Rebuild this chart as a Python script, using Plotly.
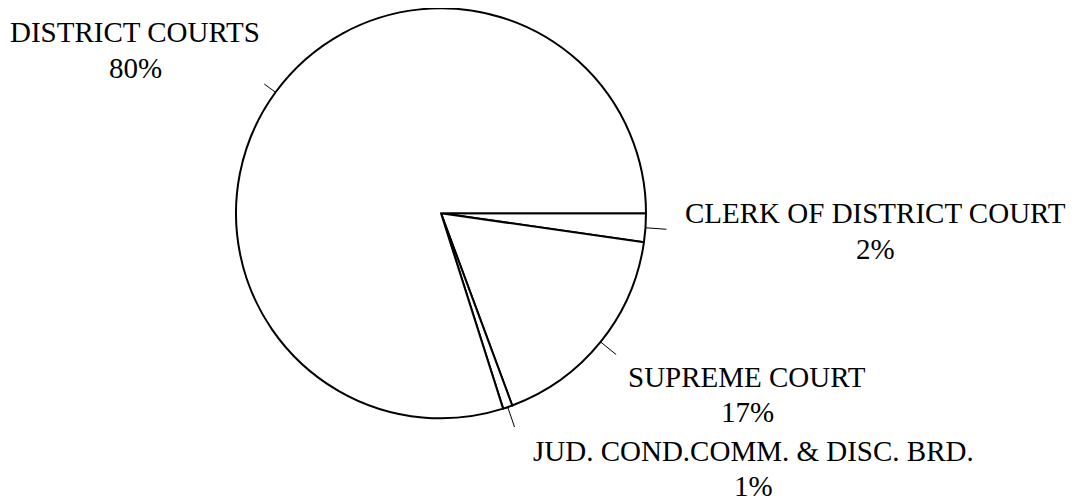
import math
import plotly.graph_objects as go

# ---- data ----
labels = ["CLERK OF DISTRICT COURT", "SUPREME COURT",
          "JUD. COND.COMM. & DISC. BRD.", "DISTRICT COURTS"]
values = [2.25, 17.1, 0.75, 79.9]

# ---- layout / style (not data) ----
W, H = 1076, 502
OFF = 8  # page body margin of the html page
CX, CY, R = 441.0, 213.3, 205.0
# label block centres (screen pixels): x centre, y of first line middle
label_pos = [(875, 213), (747, 376.5), (753, 450.5), (135, 32.5)]
line_gap = 35.5
tick_len = [21, 20, 21, 14]
FONT = dict(family="Liberation Serif", size=29, color="black")

def px(x, y):
    return (x - OFF) / W, 1 - (y - OFF) / H

total = sum(values)
pcts = [round(v / total * 100) for v in values]

dx0, dy1 = px(CX - R, CY - R)
dx1, dy0 = px(CX + R, CY + R)

fig = go.Figure()
fig.add_trace(go.Pie(
    labels=labels, values=values, sort=False, direction="clockwise",
    rotation=90, textinfo="none", textposition="none", showlegend=False,
    hoverinfo="label+percent",
    marker=dict(colors=["white"] * len(values), line=dict(color="black", width=2)),
    domain=dict(x=[dx0, dx1], y=[dy0, dy1]),
))

shapes = []
annotations = []
cum = 0.0
for i, v in enumerate(values):
    mid = (cum + v / 2) / total * 2 * math.pi
    cum += v
    c, s = math.cos(mid), math.sin(mid)
    x0, y0 = px(CX + R * c, CY + R * s)
    x1, y1 = px(CX + (R + tick_len[i]) * c, CY + (R + tick_len[i]) * s)
    shapes.append(dict(type="line", xref="paper", yref="paper",
                       x0=x0, y0=y0, x1=x1, y1=y1,
                       line=dict(color="black", width=1)))
    lx, ly = label_pos[i]
    for j, txt in enumerate([labels[i], f"{pcts[i]}%"]):
        ax, ay = px(lx, ly + j * line_gap)
        annotations.append(dict(text=txt, x=ax, y=ay, xref="paper", yref="paper",
                                xanchor="center", yanchor="middle",
                                showarrow=False, font=FONT))

fig.update_layout(
    width=W, height=H, margin=dict(l=0, r=0, t=0, b=0),
    paper_bgcolor="white", plot_bgcolor="white",
    shapes=shapes, annotations=annotations,
)
fig.write_html("out.html")
